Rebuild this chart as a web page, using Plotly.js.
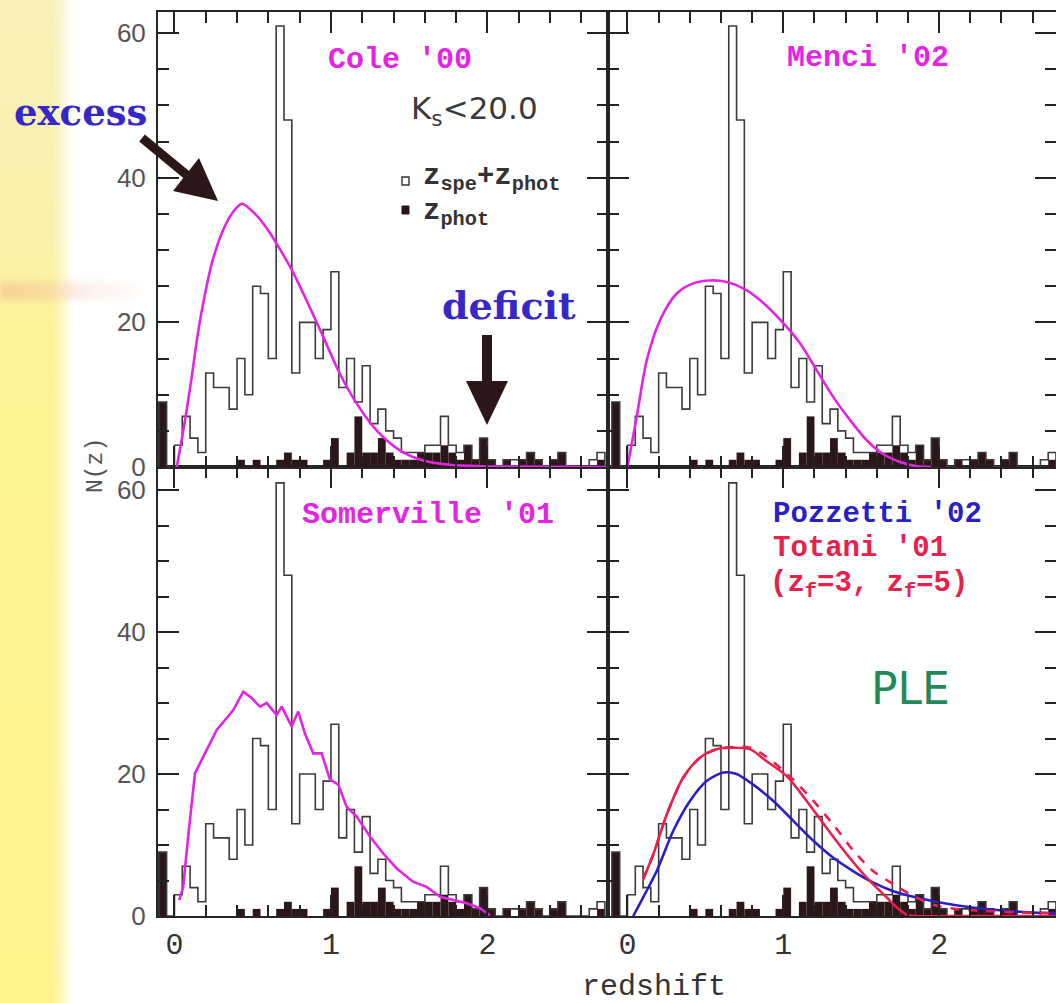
<!DOCTYPE html>
<html><head><meta charset="utf-8">
<script src="https://cdn.plot.ly/plotly-3.0.1.min.js"></script>
<style>
html,body{margin:0;padding:0;width:1056px;height:1003px;overflow:hidden;background:#fff;}
#strip{position:absolute;left:0;top:0;width:80px;height:1003px;background:linear-gradient(to bottom,#f7f1b8 0px,#f8f1aa 240px,#fcf396 330px,#fef28c 1003px);}
#fade{position:absolute;left:0;top:0;width:80px;height:1003px;background:linear-gradient(to right,rgba(255,255,255,0) 0px,rgba(255,255,255,0) 52px,rgba(255,255,255,1) 74px);}
#pink{position:absolute;left:0;top:282px;width:160px;height:18px;background:linear-gradient(to right,rgba(244,170,150,0.45) 0px,rgba(246,180,160,0.3) 60px,rgba(248,190,170,0) 150px);filter:blur(3px);}
#chart{position:absolute;left:0;top:0;width:1056px;height:1003px;}
</style></head><body>
<div id="strip"></div><div id="fade"></div><div id="pink"></div>
<div id="chart"></div>
<script>
// ---------------- DATA ----------------
const binWidth = 0.05;
const binLow = [-0.10,-0.05,0.00,0.05,0.10,0.15,0.20,0.25,0.30,0.35,0.40,0.45,0.50,0.55,0.60,0.65,0.70,0.75,0.80,0.85,0.90,0.95,1.00,1.05,1.10,1.15,1.20,1.25,1.30,1.35,1.40,1.45,1.50,1.55,1.60,1.65,1.70,1.75,1.80,1.85,1.90,1.95,2.00,2.05,2.10,2.15,2.20,2.25,2.30,2.35,2.40,2.45,2.50,2.55,2.60,2.65,2.70];
// z_spe + z_phot (open histogram)
const nAll = [9,0,3,7,4,2,13,11,11,8,15,10,25,24,15,61,48,13,20,20,15,19,27,11,15,9,14,6,8,5,4,2,2,2,3,3,7,3,2,3,1,4,1,0,1,1,1,2,1,0,1,2,0,0,0,1,2];
// z_phot only (filled histogram)
const nPhot = [9,0,0,0,0,0,0,0,0,0,1,0,1,0,0,1,2,1,1,0,0,1,4,0,2,7,2,2,4,2,1,1,1,2,2,2,3,2,1,3,1,4,1,0,1,0,1,2,1,0,1,2,0,0,0,0,1];

// model curves
const coleZ = [0.015,0.068,0.11,0.153,0.196,0.238,0.302,0.366,0.43,0.515,0.6,0.652,0.739,0.845,0.951,1.057,1.164,1.29,1.44,1.59,1.76,1.97,2.2,2.5,2.77];
const coleN = [0,6.5,12.4,18.9,24,28.1,32.3,35,36.4,35,32.7,30.9,27.7,23.0,18.0,12.9,8.8,5.1,2.3,0.9,0.3,0.1,0.05,0.02,0];
const menciZ = [0,0.059,0.123,0.209,0.316,0.422,0.53,0.637,0.743,0.85,1.0,1.107,1.214,1.32,1.428,1.535,1.64,1.75,1.856,1.95];
const menciN = [0,6.9,14.7,20.3,24,25.4,25.8,25.6,24.7,23.1,19.9,17.1,13.4,9.7,6.5,3.7,1.8,0.7,0.1,0];
const somZ = [0.031,0.056,0.088,0.131,0.184,0.27,0.323,0.376,0.44,0.493,0.546,0.589,0.653,0.685,0.749,0.791,0.834,0.887,0.94,0.994,1.047,1.1,1.164,1.249,1.334,1.42,1.526,1.611,1.697,1.78,1.867,1.952,2.016];
const somN = [2.25,4.1,11.2,20.1,22.4,26.2,27.6,29,31.6,30.7,29.5,30,28.3,29.5,26.7,28.8,25.7,22.9,22.9,19.2,18.5,15.4,14,11.2,8.8,6.7,4.8,4.1,2.7,2.25,1.8,1.1,0.1];
const pozZ = [0.037,0.1,0.187,0.294,0.401,0.508,0.615,0.7,0.807,0.936,1.064,1.193,1.321,1.45,1.578,1.706,1.856,2.006,2.177,2.39,2.6,2.75];
const pozN = [0,2.6,6.3,12,16.2,19,20.2,20,18.5,16.2,13.4,10.6,8.2,6.3,4.7,3.5,2.6,1.9,1.3,0.8,0.5,0.4];
const tot3Z = [0.101,0.166,0.252,0.358,0.465,0.572,0.679,0.786,0.893,1.022,1.15,1.278,1.407,1.535,1.664,1.728,1.79,1.85,2.2,2.75];
const tot3N = [5.2,8.7,14.3,19.5,22.3,23.5,23.7,23.5,21.8,19.7,16.2,12.4,8.7,5.4,2.6,1.2,0.2,0,0,0];
const tot5Z = [0.101,0.166,0.252,0.358,0.465,0.572,0.679,0.786,0.893,1.064,1.193,1.32,1.45,1.578,1.706,1.834,1.963,2.1,2.3,2.5,2.75];
const tot5N = [5.2,8.7,14.3,19.5,22.3,23.5,23.8,23.7,22.4,19.2,16.2,12.9,9.2,6.3,4.5,2.8,1.6,1.0,0.7,0.5,0.4];

// tick steps (major / minor)
const xMajor = 1, xMinor = 0.2, yMajor = 20, yMinor = 5;

// ---------------- STYLE ----------------
const MAG = '#e424e4', BLUE = '#2a1fc4', RED = '#e8204c', DARK = '#2b1719', OUT = '#3b3b3b', TICK = '#222222';
const MONO = '"Liberation Mono","DejaVu Sans Mono",monospace';

function stepTrace(xa, ya) {
  const x = [binLow[0]], y = [0];
  for (let i = 0; i < binLow.length; i++) { x.push(binLow[i]); y.push(nAll[i]); }
  x.push(binLow[binLow.length-1] + binWidth); y.push(0);
  return {type:'scatter', mode:'lines', x, y, xaxis:xa, yaxis:ya, line:{shape:'hv', color:OUT, width:1.6}, hoverinfo:'skip'};
}
function barTrace(xa, ya) {
  return {type:'bar', x: binLow.map(v => v + binWidth/2), y: nPhot, width: binWidth, xaxis:xa, yaxis:ya,
          marker:{color:DARK, line:{width:0}}, hoverinfo:'skip'};
}
function curve(xa, ya, x, y, color, dash, shape) {
  return {type:'scatter', mode:'lines', x, y, xaxis:xa, yaxis:ya,
          line:{color, width:2.6, dash:dash||'solid', shape:shape||'spline', smoothing:0.8}, hoverinfo:'skip'};
}

const traces = [];
[['x3','y3'],['x4','y4'],['x','y'],['x2','y2']].forEach(p => { traces.push(barTrace(p[0],p[1])); traces.push(stepTrace(p[0],p[1])); });
traces.push(curve('x3','y3',coleZ,coleN,MAG));
traces.push(curve('x4','y4',menciZ,menciN,MAG));
traces.push(curve('x','y',somZ,somN,MAG,'solid','linear'));
traces.push(curve('x2','y2',pozZ,pozN,BLUE));
traces.push(curve('x2','y2',tot5Z,tot5N,RED,'dash'));
traces.push(curve('x2','y2',tot3Z,tot3N,RED));

// geometry (pixels)
const L = 158, R = 1056, T = 12, B = 916, W = R - L, H = B - T;
const xMid = 608, yMid = 467;
const px = v => (v - L) / W;
const py = v => (B - v) / H;

function xAxis(domain, range, anchor, labels) {
  return {domain, range, anchor, showgrid:false, zeroline:false, showline:true, linecolor:'#262626', linewidth:2,
    mirror:'ticks', ticks:'inside', ticklen:21, tickwidth:2, tickcolor:TICK,
    tickmode:'linear', tick0:0, dtick:xMajor, showticklabels:labels,
    tickfont:{family:MONO, size:30, color:'#333'}, ticklabelstandoff:0,
    minor:{tickmode:'linear', tick0:0, dtick:xMinor, ticks:'inside', ticklen:11, tickwidth:2, tickcolor:TICK, showgrid:false},
    fixedrange:true};
}
function yAxis(domain, range, anchor, labels) {
  return {domain, range, anchor, showgrid:false, zeroline:false, showline:true, linecolor:'#262626', linewidth:2,
    mirror:'ticks', ticks:'inside', ticklen:21, tickwidth:2, tickcolor:TICK,
    tickmode:'linear', tick0:0, dtick:yMajor, showticklabels:labels,
    tickfont:{family:'"Liberation Sans",Arial,sans-serif', size:26, color:'#555'}, ticklabelstandoff:5,
    minor:{tickmode:'linear', tick0:0, dtick:yMinor, ticks:'inside', ticklen:11, tickwidth:2, tickcolor:TICK, showgrid:false},
    fixedrange:true};
}
const dxL = [0, px(xMid)], dxR = [px(xMid), 1];
const dyB = [0, py(yMid)], dyT = [py(yMid), 1];
const rangeXL = [-0.105, 2.77], rangeXR = [-0.125, 2.75];
const rangeYT = [0, 62.93], rangeYB = [0, 63.24];

function ann(text, x, y, font, xanchor, extra) {
  return Object.assign({text, x:px(x), y:py(y), xref:'paper', yref:'paper', showarrow:false,
    xanchor:xanchor||'center', yanchor:'middle', font}, extra||{});
}
const annotations = [
  ann("Cole '00", 400, 60, {family:MONO, size:30, color:MAG, weight:'bold'}),
  ann("Menci '02", 868, 58, {family:MONO, size:30, color:MAG, weight:'bold'}),
  ann("Somerville '01", 428, 515, {family:MONO, size:30, color:MAG, weight:'bold'}),
  ann("Pozzetti '02", 771, 514, {family:MONO, size:29, color:BLUE, weight:'bold'}, 'left'),
  ann("Totani '01", 771, 548, {family:MONO, size:29, color:RED, weight:'bold'}, 'left'),
  ann("(z<sub>f</sub>=3, z<sub>f</sub>=5)", 768, 585, {family:MONO, size:29, color:RED, weight:'bold'}, 'left'),
  ann("PLE", 910, 688, {family:'"DejaVu Sans",sans-serif', size:44, color:'#1f8a55'}),
  ann("K<sub>s</sub>&lt;20.0", 409, 110, {family:'"DejaVu Sans",sans-serif', size:31, color:'#3a3a3a'}, 'left'),
  ann("z<sub>spe</sub>+z<sub>phot</sub>", 421, 178, {family:MONO, size:29, color:'#333', weight:'bold'}, 'left'),
  ann("z<sub>phot</sub>", 421, 213, {family:MONO, size:29, color:'#333', weight:'bold'}, 'left'),
  ann("excess", 80, 112, {family:'"DejaVu Serif",serif', size:37, color:'#3726c8', weight:'bold'}),
  ann("deficit", 509, 305, {family:'"DejaVu Serif",serif', size:38, color:'#3726c8', weight:'bold'}),
  ann("redshift", 654, 987, {family:MONO, size:30, color:'#333'}),
  ann("N(z)", 96, 466, {family:MONO, size:23, color:'#555'}, 'center', {textangle:-90})
];

function tri(p) { return 'M ' + p.map(q => px(q[0]) + ',' + py(q[1])).join(' L ') + ' Z'; }
const shapes = [
  {type:'line', xref:'paper', yref:'paper', x0:px(142), y0:py(138), x1:px(188), y1:py(176), line:{color:DARK, width:9}},
  {type:'path', xref:'paper', yref:'paper', path:tri([[218,201],[173,191],[199,158]]), fillcolor:DARK, line:{width:0}},
  {type:'line', xref:'paper', yref:'paper', x0:px(487), y0:py(335), x1:px(487), y1:py(384), line:{color:DARK, width:10}},
  {type:'path', xref:'paper', yref:'paper', path:tri([[487,425],[466,381],[508,381]]), fillcolor:DARK, line:{width:0}},
  {type:'rect', xref:'paper', yref:'paper', x0:px(402), y0:py(177), x1:px(409), y1:py(185), line:{color:'#333', width:1.4}, fillcolor:'rgba(0,0,0,0)'},
  {type:'rect', xref:'paper', yref:'paper', x0:px(402), y0:py(206), x1:px(409), y1:py(214), line:{color:DARK, width:1}, fillcolor:DARK}
];

const layout = {
  width:1056, height:1003, margin:{l:L, r:1056-R, t:T, b:1003-B},
  paper_bgcolor:'rgba(0,0,0,0)', plot_bgcolor:'#ffffff', showlegend:false, barmode:'overlay',
  xaxis: xAxis(dxL, rangeXL, 'y', true),
  yaxis: yAxis(dyB, rangeYB, 'x', true),
  xaxis2: xAxis(dxR, rangeXR, 'y2', true),
  yaxis2: yAxis(dyB, rangeYB, 'x2', false),
  xaxis3: xAxis(dxL, rangeXL, 'y3', false),
  yaxis3: yAxis(dyT, rangeYT, 'x3', true),
  xaxis4: xAxis(dxR, rangeXR, 'y4', false),
  yaxis4: yAxis(dyT, rangeYT, 'x4', false),
  annotations, shapes
};
Plotly.newPlot('chart', traces, layout, {displayModeBar:false, staticPlot:true});
</script></body></html>
